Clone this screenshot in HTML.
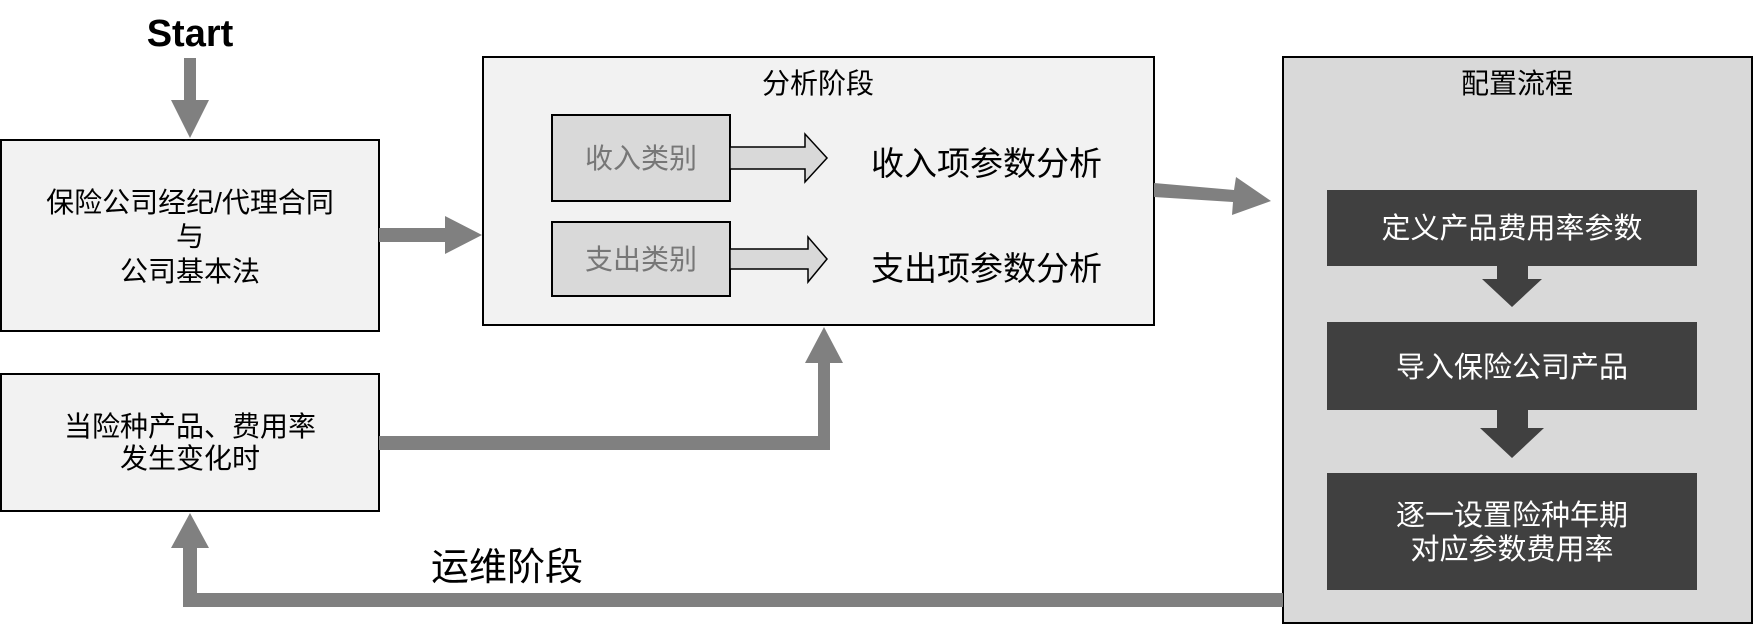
<!DOCTYPE html>
<html><head><meta charset="utf-8"><style>
html,body{margin:0;padding:0;background:#fff;}
svg text{font-family:"Liberation Sans","Noto Sans CJK SC",sans-serif;}
</style></head><body>
<svg width="1753" height="625" viewBox="0 0 1753 625" xmlns="http://www.w3.org/2000/svg">
<rect width="1753" height="625" fill="#fff"/>
<!-- Start -->
<text x="190" y="46" font-size="38" font-weight="bold" text-anchor="middle" fill="#000">Start</text>
<polygon points="184,58 196,58 196,100 209,100 190,138 171,100 184,100" fill="#808080"/>
<!-- box1 -->
<rect x="1" y="140" width="378" height="191" fill="#f2f2f2" stroke="#000" stroke-width="2"/>
<g font-size="28" text-anchor="middle" fill="#000">
<text x="190" y="212">保险公司经纪/代理合同</text>
<text x="190" y="246">与</text>
<text x="190" y="281">公司基本法</text>
</g>
<!-- box2 -->
<rect x="1" y="374" width="378" height="137" fill="#f2f2f2" stroke="#000" stroke-width="2"/>
<g font-size="28" text-anchor="middle" fill="#000">
<text x="190" y="436">当险种产品、费用率</text>
<text x="190" y="468">发生变化时</text>
</g>
<!-- arrow box1 -> analysis -->
<polygon points="379,228 445,228 445,216 482,235 445,254 445,242 379,242" fill="#808080"/>
<!-- analysis box -->
<rect x="483" y="57" width="671" height="268" fill="#f2f2f2" stroke="#000" stroke-width="2"/>
<text x="818" y="93" font-size="28" text-anchor="middle" fill="#000">分析阶段</text>
<rect x="552" y="115" width="178" height="86" fill="#d9d9d9" stroke="#000" stroke-width="2"/>
<text x="641" y="168" font-size="28" text-anchor="middle" fill="#777">收入类别</text>
<rect x="552" y="222" width="178" height="74" fill="#d9d9d9" stroke="#000" stroke-width="2"/>
<text x="641" y="269" font-size="28" text-anchor="middle" fill="#777">支出类别</text>
<polygon points="730,147 805,147 805,134 827,158 805,182 805,169 730,169" fill="#d9d9d9" stroke="#000" stroke-width="1.5"/>
<polygon points="730,249 808,249 808,237 827,259 808,282 808,269 730,269" fill="#d9d9d9" stroke="#000" stroke-width="1.5"/>
<g font-size="33" fill="#000">
<text x="871" y="175">收入项参数分析</text>
<text x="871" y="280">支出项参数分析</text>
</g>
<!-- arrow box2 -> analysis -->
<polygon points="379,436 818,436 818,363 805,363 824,327 843,363 830,363 830,450 379,450" fill="#808080"/>
<!-- arrow analysis -> config -->
<polygon points="1154,183 1234,190 1236,177 1271,201 1232,215 1233,202 1154,197" fill="#808080"/>
<!-- config box -->
<rect x="1283" y="57" width="469" height="566" fill="#d9d9d9" stroke="#000" stroke-width="2"/>
<text x="1517" y="93" font-size="28" text-anchor="middle" fill="#000">配置流程</text>
<rect x="1327" y="190" width="370" height="76" fill="#404040"/>
<rect x="1327" y="322" width="370" height="88" fill="#404040"/>
<rect x="1327" y="473" width="370" height="117" fill="#404040"/>
<polygon points="1497,266 1528,266 1528,279 1542,279 1512,307 1482,279 1497,279" fill="#404040"/>
<polygon points="1497,410 1528,410 1528,428 1544,428 1512,458 1480,428 1497,428" fill="#404040"/>
<g font-size="29" text-anchor="middle" fill="#fff">
<text x="1512" y="238">定义产品费用率参数</text>
<text x="1512" y="377">导入保险公司产品</text>
<text x="1512" y="525">逐一设置险种年期</text>
<text x="1512" y="559">对应参数费用率</text>
</g>
<!-- bottom arrow -->
<polygon points="1283,593 1283,607 183,607 183,548 171,548 190,513 209,548 197,548 197,593" fill="#808080"/>
<text x="431" y="580" font-size="38" fill="#000">运维阶段</text>
</svg>
</body></html>
